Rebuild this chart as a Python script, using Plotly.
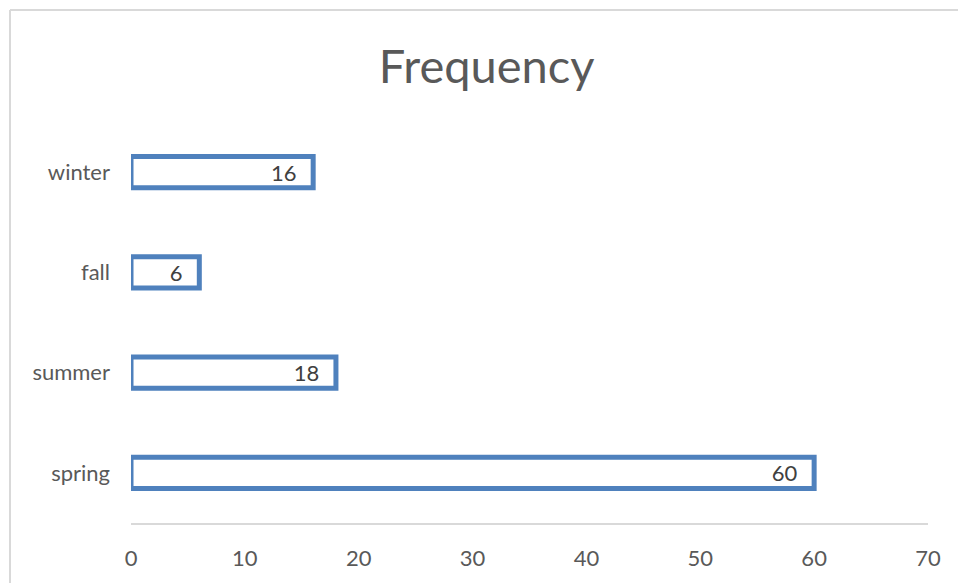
import plotly.graph_objects as go

categories = ["spring", "summer", "fall", "winter"]
values = [60, 18, 6, 16]
x_ticks = [0, 10, 20, 30, 40, 50, 60, 70]

BLUE = "#4F81BD"
FONT = "Lato, Open Sans, sans-serif"

fig = go.Figure(
    go.Bar(
        y=categories,
        x=values,
        orientation="h",
        marker=dict(color="white", line=dict(color=BLUE, width=5)),
        text=values,
        texttemplate="%{x}\u2002\u2009",
        textposition="inside",
        insidetextanchor="end",
        textangle=0,
        constraintext="none",
        textfont=dict(family=FONT, size=22, color="#404040"),
        cliponaxis=False,
    )
)

fig.update_layout(
    width=958,
    height=583,
    margin=dict(l=131, r=30, t=122, b=60, autoexpand=False),
    paper_bgcolor="white",
    plot_bgcolor="white",
    bargap=0.69,
    showlegend=False,
    title=dict(
        text="Frequency",
        x=0.508,
        xanchor="center",
        y=0.885,
        yanchor="middle",
        automargin=False,
        font=dict(family=FONT, size=47, color="#595959"),
    ),
    xaxis=dict(
        range=[0, 70],
        tickvals=x_ticks,
        showgrid=False,
        zeroline=False,
        showline=True,
        linecolor="#D9D9D9",
        linewidth=1.5,
        ticks="",
        automargin=False,
        ticklabelstandoff=15,
        tickfont=dict(family=FONT, size=22, color="#595959"),
    ),
    yaxis=dict(
        type="category",
        categoryorder="array",
        categoryarray=categories,
        showgrid=False,
        zeroline=False,
        showline=False,
        ticks="",
        automargin=False,
        ticklabelstandoff=20,
        tickfont=dict(family=FONT, size=22, color="#595959"),
    ),
    shapes=[
        dict(type="line", xref="paper", yref="paper", x0=-0.1518, x1=-0.1518, y0=-0.3, y1=1.2793,
             line=dict(color="#D9D9D9", width=2)),
        dict(type="line", xref="paper", yref="paper", x0=-0.1518, x1=1.2, y0=1.2793, y1=1.2793,
             line=dict(color="#D9D9D9", width=2)),
    ],
)

fig.write_html(
    "out.html",
    config={"displayModeBar": False},
    post_script="document.body.style.margin='0';",
)
